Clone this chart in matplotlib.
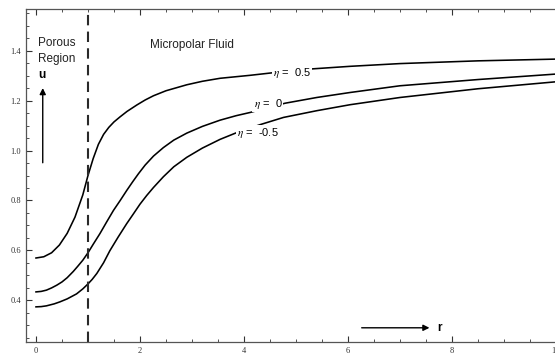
import matplotlib
matplotlib.use("Agg")
import matplotlib.pyplot as plt
from matplotlib.ticker import MultipleLocator

plt.rcParams['mathtext.fontset'] = 'stix'

# data
x_pos = [0, 0.15, 0.3, 0.45, 0.6, 0.75, 0.9, 1.0, 1.1, 1.2, 1.3, 1.4, 1.5, 1.615, 1.75, 1.94, 2.1, 2.26, 2.5, 2.9,
         3.2, 3.54, 4.12, 4.8, 5.33, 6.04, 7.0, 8.5, 10.0]
u_pos = [0.569, 0.574, 0.59, 0.621, 0.668, 0.733, 0.822, 0.9, 0.968, 1.025, 1.065, 1.093, 1.115, 1.135, 1.157, 1.183,
         1.203, 1.22, 1.24, 1.264, 1.278, 1.29, 1.302, 1.318, 1.328, 1.338, 1.349, 1.36, 1.367]

x_zero = [0, 0.1, 0.2, 0.3, 0.4, 0.5, 0.6, 0.717, 0.8, 0.9, 1.0, 1.1, 1.23, 1.36, 1.49, 1.62, 1.745, 1.86, 1.97, 2.1,
          2.26, 2.45, 2.65, 2.9, 3.2, 3.54, 3.85, 4.12, 4.79, 5.4, 6.04, 7.0, 8.5, 10.0]
u_zero = [0.433, 0.435, 0.44, 0.449, 0.46, 0.473, 0.49, 0.515, 0.535, 0.56, 0.59, 0.624, 0.667, 0.714, 0.76, 0.80,
          0.84, 0.875, 0.907, 0.942, 0.978, 1.012, 1.042, 1.07, 1.097, 1.122, 1.14, 1.153, 1.19, 1.213, 1.233, 1.26,
          1.285, 1.307]

x_neg = [0, 0.1, 0.2, 0.35, 0.46, 0.6, 0.78, 0.9, 1.0, 1.08, 1.17, 1.3, 1.42, 1.58, 1.745, 1.87, 2.0, 2.13, 2.26,
         2.45, 2.65, 2.9, 3.2, 3.54, 3.86, 4.31, 4.76, 5.4, 6.04, 7.0, 8.5, 10.0]
u_neg = [0.373, 0.374, 0.377, 0.385, 0.393, 0.405, 0.425, 0.445, 0.465, 0.483, 0.507, 0.55, 0.598, 0.653, 0.707,
         0.745, 0.785, 0.82, 0.852, 0.895, 0.935, 0.973, 1.01, 1.045, 1.072, 1.104, 1.133, 1.16, 1.184, 1.213, 1.248,
         1.276]

labels = [r"$\eta$ =  0.5", r"$\eta$ =  0", r"$\eta$ =  -0.5"]
label_pos = [(4.93, 1.312), (4.46, 1.186), (4.26, 1.07)]

fig = plt.figure(figsize=(5.55, 3.56), dpi=100)
ax = fig.add_axes([26/555, 14/356, (556-26)/555, (342-9)/356])
ax.set_xlim(-0.192, 10.0)
ax.set_ylim(0.232, 1.568)

for xs, us in [(x_pos, u_pos), (x_zero, u_zero), (x_neg, u_neg)]:
    ax.plot(xs, us, color='black', lw=1.15, solid_joinstyle='round')

ax.axvline(1.0, color='#2a2a2a', lw=1.5, ls=(0, (5, 3)))

for lab, (lx, ly) in zip(labels, label_pos):
    ax.text(lx, ly, lab, fontsize=8, family='Liberation Sans', ha='center', va='center',
            bbox=dict(facecolor='white', edgecolor='none', pad=0.8), zorder=5)

ax.text(0.04, 1.398, "Porous\nRegion", fontsize=8.5, family='Liberation Sans', ha='left', va='center',
        linespacing=1.45, color='#222222')
ax.text(0.05, 1.302, "u", fontsize=8.5, family='Liberation Sans', weight='bold', ha='left', va='center')
ax.text(2.2, 1.424, "Micropolar Fluid", fontsize=8.5, family='Liberation Sans', ha='left', va='center',
        color='#222222')
ax.annotate("", xy=(0.13, 1.262), xytext=(0.13, 0.94),
            arrowprops=dict(arrowstyle='-|>', color='black', lw=1.0, mutation_scale=9))
ax.annotate("", xy=(7.62, 0.289), xytext=(6.21, 0.289),
            arrowprops=dict(arrowstyle='-|>', color='black', lw=1.0, mutation_scale=9))
ax.text(7.72, 0.289, "r", fontsize=8.5, family='Liberation Sans', weight='bold', ha='left', va='center')

ax.xaxis.set_minor_locator(MultipleLocator(0.5))
ax.yaxis.set_minor_locator(MultipleLocator(0.05))
ax.tick_params(which='both', direction='in', top=True, right=False, labelsize=6, colors='#333333',
               labelcolor='#333333')
ax.tick_params(which='major', length=4, width=0.8)
ax.tick_params(which='minor', length=2, width=0.6)
ax.set_xticks([0, 2, 4, 6, 8, 10])
ax.set_xticklabels(["0", "2", "4", "6", "8", "10"], family='Liberation Serif')
ax.set_yticks([0.4, 0.6, 0.8, 1.0, 1.2, 1.4])
ax.set_yticklabels(["0.4", "0.6", "0.8", "1.0", "1.2", "1.4"], family='Liberation Serif')
for s in ax.spines.values():
    s.set_color('#555555')
    s.set_linewidth(0.9)

fig.savefig("out.png", dpi=100)
